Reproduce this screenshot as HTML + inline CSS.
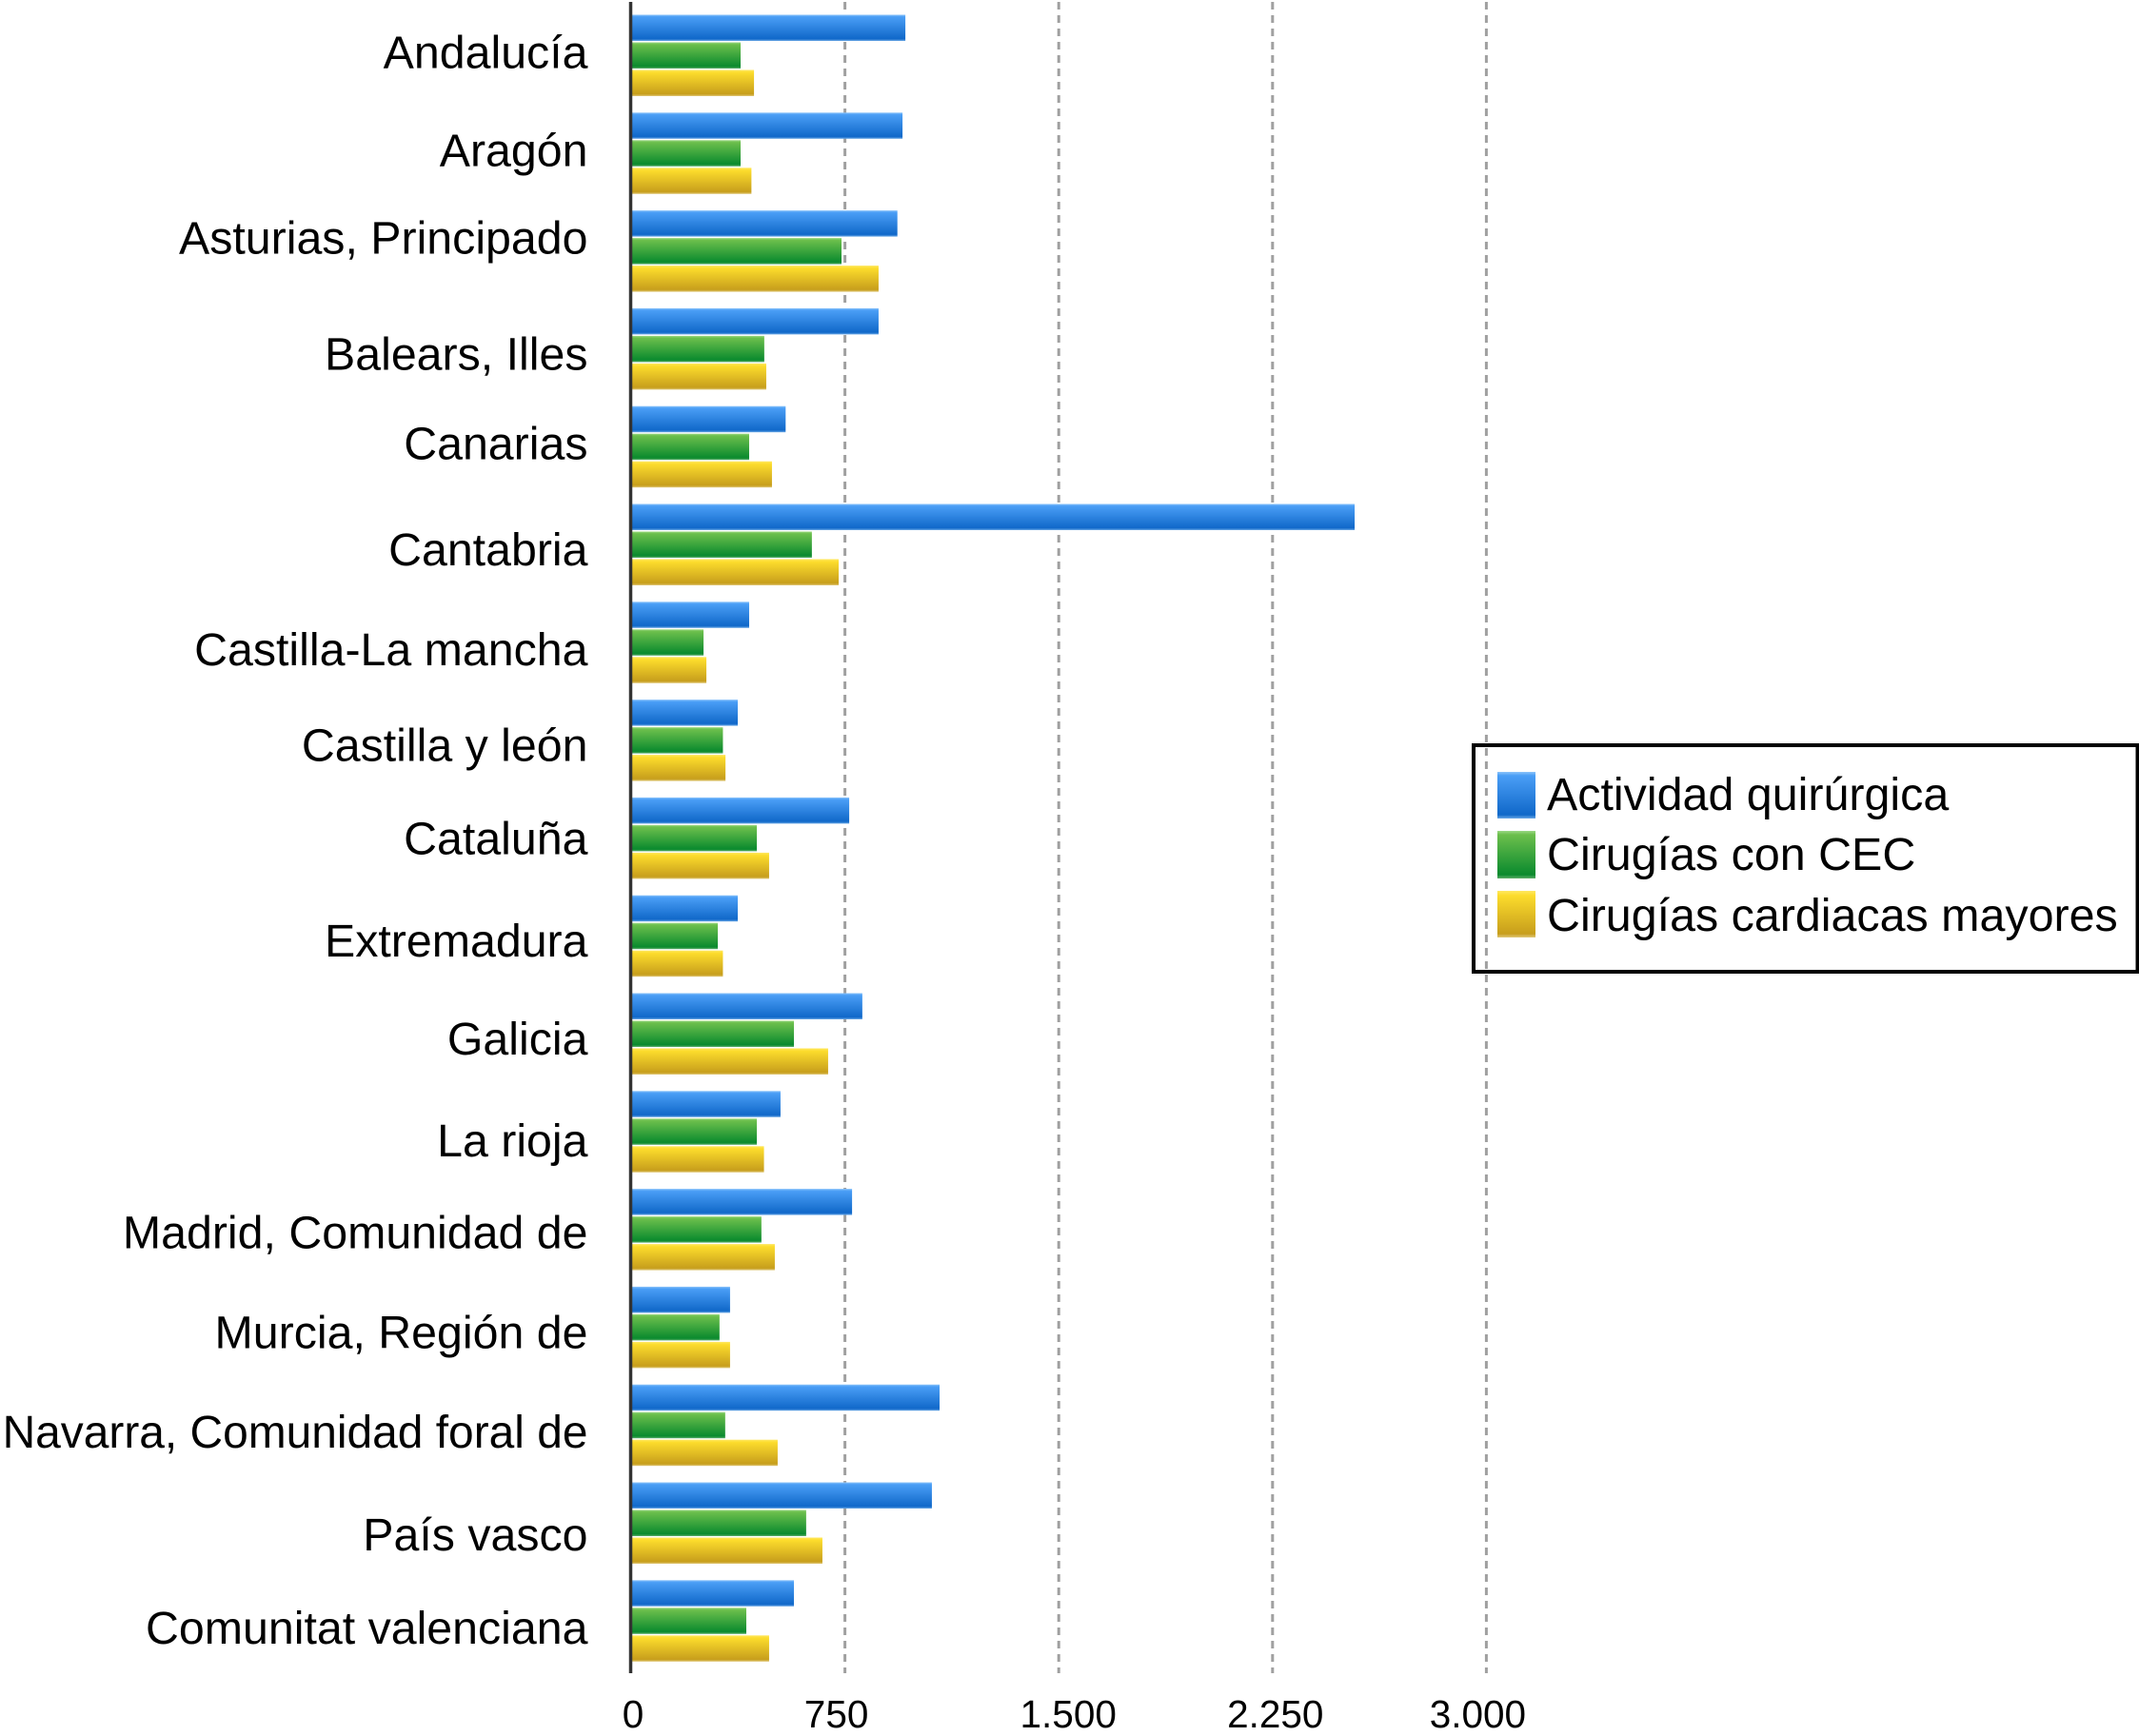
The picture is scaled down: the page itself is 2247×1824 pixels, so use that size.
<!DOCTYPE html>
<html lang="es">
<head>
<meta charset="utf-8">
<title>Actividad quirúrgica por comunidad autónoma</title>
<style>
  html, body { margin: 0; padding: 0; background: #fff; }
  svg { display: block; font-family: "Liberation Sans", Arial, sans-serif; }
</style>
</head>
<body>
<svg id="chart" width="2247" height="1824" viewBox="0 0 2247 1824" xmlns="http://www.w3.org/2000/svg">
  <defs>
    <linearGradient id="grad-blue" x1="0" y1="0" x2="0" y2="1">
      <stop offset="0" stop-color="#8cc4fa"/>
      <stop offset="0.08" stop-color="#4a9ef6"/>
      <stop offset="0.92" stop-color="#1068c9"/>
      <stop offset="1" stop-color="#6aa8e6"/>
    </linearGradient>
    <linearGradient id="grad-green" x1="0" y1="0" x2="0" y2="1">
      <stop offset="0" stop-color="#9ad884"/>
      <stop offset="0.08" stop-color="#6cbf4c"/>
      <stop offset="0.92" stop-color="#0a8a2e"/>
      <stop offset="1" stop-color="#5cad68"/>
    </linearGradient>
    <linearGradient id="grad-yellow" x1="0" y1="0" x2="0" y2="1">
      <stop offset="0" stop-color="#ffe860"/>
      <stop offset="0.1" stop-color="#fcdc2c"/>
      <stop offset="0.92" stop-color="#c79e1c"/>
      <stop offset="1" stop-color="#e0c878"/>
    </linearGradient>
  </defs>
  <g id="grid"></g>
  <g id="bars"></g>
  <line x1="662.5" y1="2" x2="662.5" y2="1758" stroke="#333" stroke-width="3.5"/>
  <g id="cat-labels"></g>
  <g id="tick-labels"></g>
  <g>
    <rect x="1548" y="783" width="697.5" height="238" fill="none" stroke="#000" stroke-width="4"/>
    <rect x="1573" y="811" width="40" height="49" fill="url(#grad-blue)"/>
    <text x="1625" y="851" font-size="48.4" fill="#000">Actividad quirúrgica</text>
    <rect x="1573" y="873" width="40" height="50" fill="url(#grad-green)"/>
    <text x="1625" y="914" font-size="48.4" fill="#000">Cirugías con CEC</text>
    <rect x="1573" y="936" width="40" height="49" fill="url(#grad-yellow)"/>
    <text x="1625" y="978" font-size="48.4" fill="#000">Cirugías cardiacas mayores</text>
  </g>
</svg>
<script>
const categories = ["Andalucía", "Aragón", "Asturias, Principado", "Balears, Illes", "Canarias", "Cantabria", "Castilla-La mancha", "Castilla y león", "Cataluña", "Extremadura", "Galicia", "La rioja", "Madrid, Comunidad de", "Murcia, Región de", "Navarra, Comunidad foral de", "País vasco", "Comunitat valenciana"];
const actividadQuirurgica = [962, 952, 934, 868, 542, 2538, 414, 374, 765, 374, 811, 524, 775, 347, 1082, 1055, 571];
const cirugiasConCec = [384, 384, 738, 467, 414, 634, 254, 322, 441, 304, 571, 441, 457, 310, 330, 614, 404];
const cirugiasMayores = [431, 422, 868, 474, 494, 728, 264, 331, 484, 322, 691, 466, 504, 347, 514, 671, 484];
const tickValues = [0, 750, 1500, 2250, 3000];
const tickLabels = ["0", "750", "1.500", "2.250", "3.000"];

const SVG_NS = "http://www.w3.org/2000/svg";
const seriesFills = ["url(#grad-blue)", "url(#grad-green)", "url(#grad-yellow)"];
const seriesKeys = ["actividad", "cec", "mayores"];
const seriesValues = [actividadQuirurgica, cirugiasConCec, cirugiasMayores];

function xScale(v) {
  return 663 + v * (224.6 / 750);
}
function bandStart(i) {
  return 15.5 + i * 102.8;
}
function barY(i, s) {
  return bandStart(i) + s * 29;
}
function slug(t) {
  return t.normalize("NFD").replace(/[\u0300-\u036f]/g, "").toLowerCase().replace(/[^a-z0-9]+/g, "-").replace(/^-|-$/g, "");
}

// Layout quirks of the source figure: several labels sit off their band centre.
function catLabelNudge(name) {
  if (name.indexOf("Asturias") === 0) return -19;
  if (name === "Andalucía" || name === "Aragón" || name === "Canarias") return -8.5;
  if (name === "Cataluña") return -5;
  if (name === "Madrid, Comunidad de") return -2;
  if (name === "País vasco") return 7;
  if (name === "La rioja") return 4;
  if (name === "Castilla-La mancha" || name === "Navarra, Comunidad foral de" || name === "Comunitat valenciana") return 2;
  return 0;
}
function tickLabelNudge(v) {
  if (v === 750 || v === 3000) return -9;
  if (v === 1500) return 10;
  if (v === 2250) return 3;
  return 2;
}

const gridGroup = document.getElementById("grid");
const barsGroup = document.getElementById("bars");
const catGroup = document.getElementById("cat-labels");
const tickGroup = document.getElementById("tick-labels");

tickValues.forEach(function (v, i) {
  if (v !== 0) {
    const line = document.createElementNS(SVG_NS, "line");
    
    
    line.setAttribute("x1", xScale(v));
    line.setAttribute("x2", xScale(v));
    line.setAttribute("y1", 2);
    line.setAttribute("y2", 1758);
    line.setAttribute("stroke", "#a0a0a0");
    line.setAttribute("stroke-width", "3");
    line.setAttribute("stroke-dasharray", "8 6");
    gridGroup.appendChild(line);
  }
  const label = document.createElementNS(SVG_NS, "text");
  
  
  label.setAttribute("x", xScale(v) + tickLabelNudge(v));
  label.setAttribute("y", 1815);
  label.setAttribute("font-size", "40.5");
  label.setAttribute("text-anchor", "middle");
  label.setAttribute("fill", "#000");
  label.textContent = tickLabels[i];
  tickGroup.appendChild(label);
});

categories.forEach(function (name, i) {
  seriesValues.forEach(function (values, s) {
    const bar = document.createElementNS(SVG_NS, "rect");
    
    
    bar.setAttribute("x", xScale(0));
    bar.setAttribute("y", barY(i, s));
    bar.setAttribute("width", xScale(values[i]) - xScale(0));
    bar.setAttribute("height", 27.5);
    bar.setAttribute("fill", seriesFills[s]);
    barsGroup.appendChild(bar);
  });
  const label = document.createElementNS(SVG_NS, "text");
  
  
  label.setAttribute("x", 617.5);
  label.setAttribute("y", bandStart(i) + 64.5 + catLabelNudge(name));
  label.setAttribute("font-size", name.indexOf("Navarra") === 0 ? "47.9" : "48.3");
  label.setAttribute("text-anchor", "end");
  label.setAttribute("fill", "#000");
  label.textContent = name;
  catGroup.appendChild(label);
});
</script>
</body>
</html>
